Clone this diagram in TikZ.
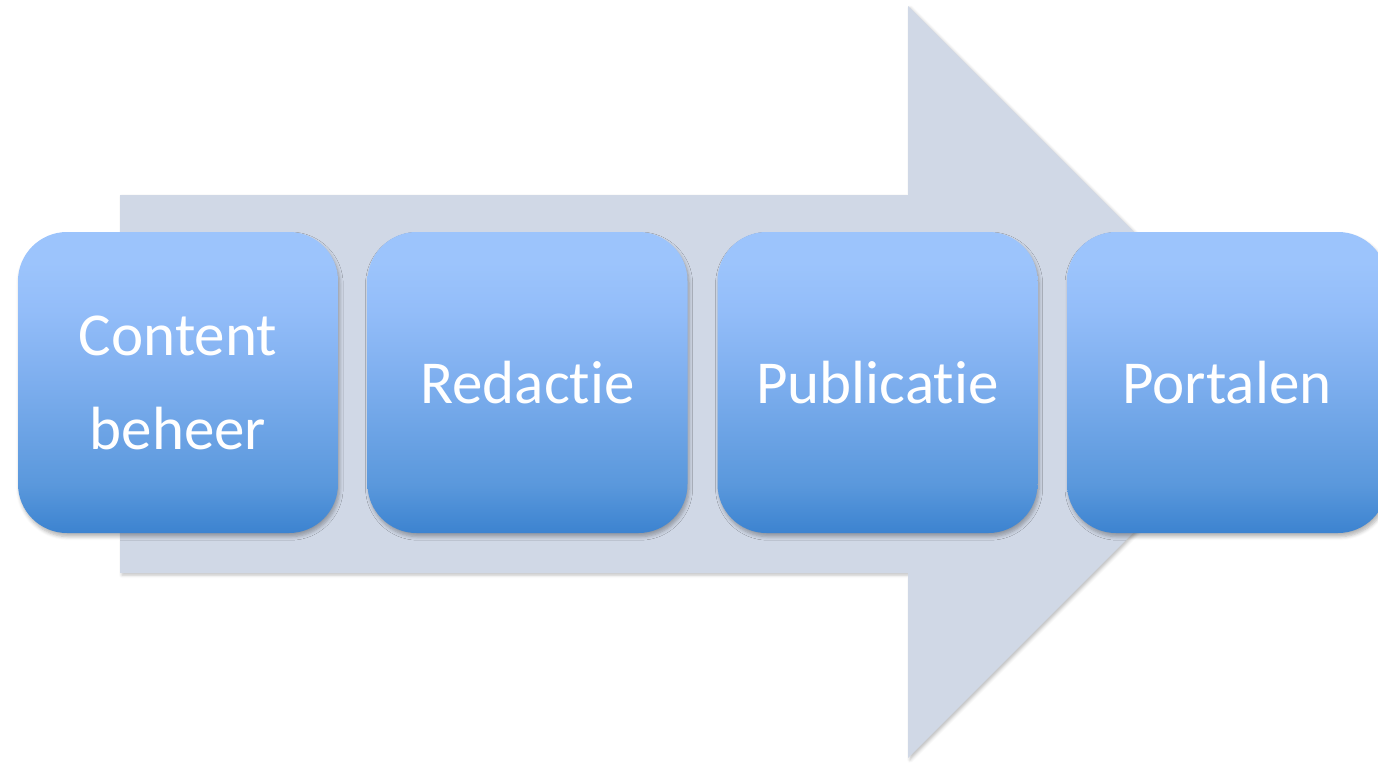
\documentclass[tikz,border=0pt]{standalone}
\usepackage{fontspec}
\setmainfont[Ligatures=NoCommon]{Carlito}
\usetikzlibrary{shadows.blur}
\definecolor{arrowfill}{HTML}{D0D8E6}
\definecolor{bTop}{HTML}{9CC4FC}
\definecolor{bUp}{HTML}{93BDF9}
\definecolor{bMid}{HTML}{7DAEEE}
\definecolor{bLow}{HTML}{5A98DC}
\definecolor{bBot}{HTML}{3C83D0}
\pgfdeclareverticalshading{boxshade}{100bp}{color(0bp)=(bBot); color(25bp)=(bBot); color(33bp)=(bLow); color(50bp)=(bMid); color(62bp)=(bUp); color(70bp)=(bTop); color(100bp)=(bTop)}
\tikzset{
  stepbox/.style={rounded corners=24.5pt, shading=boxshade, minimum width=160pt, minimum height=150.5pt,
    text=white, font=\fontsize{30.5}{47}\selectfont, align=center, inner sep=0pt,
    blur shadow={shadow xshift=0.8pt, shadow yshift=-1.8pt, shadow blur steps=5, shadow opacity=30, shadow blur radius=1.8pt}},
  bigarrow/.style={fill=arrowfill, blur shadow={shadow xshift=1pt, shadow yshift=-1pt, shadow blur steps=4, shadow opacity=25, shadow blur radius=1.5pt}}
}
\begin{document}
\begin{tikzpicture}[x=0.5pt,y=-0.5pt]
\useasboundingbox (0,0) rectangle (1378,762);
\fill[bigarrow] (120,195) -- (908,195) -- (908,6) -- (1284,382) -- (908,758) -- (908,573) -- (120,573) -- cycle;
\node[stepbox] (b1) at (178,382.5) {Content\\beheer};
\node[stepbox] (b2) at (527.5,382.5) {Redactie};
\node[stepbox] (b3) at (877.5,382.5) {Publicatie};
\node[stepbox] (b4) at (1227,382.5) {Portalen};
\end{tikzpicture}
\end{document}
